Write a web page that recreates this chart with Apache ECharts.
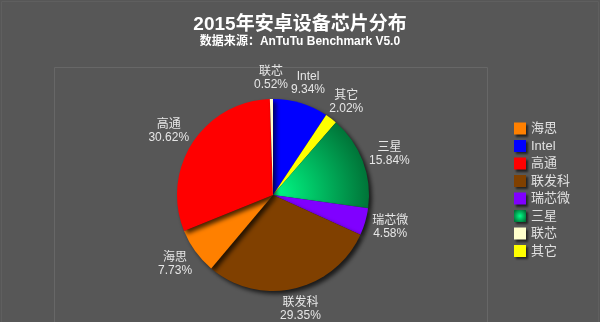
<!DOCTYPE html>
<html>
<head>
<meta charset="utf-8">
<script src="https://cdn.jsdelivr.net/npm/echarts@6/dist/echarts.min.js"></script>
<style>
  html, body { margin: 0; padding: 0; background: #575757; }
  #chart { width: 600px; height: 322px; }
</style>
</head>
<body>
<div id="chart"></div>
<script>
// 数据（顺时针，从12点方向开始）
var names = ['Intel', '其它', '三星', '瑞芯微', '联发科', '海思', '高通', '联芯'];
var values = [9.34, 2.02, 15.84, 4.58, 29.35, 7.73, 30.62, 0.52];
var legendOrder = ['海思', 'Intel', '高通', '联发科', '瑞芯微', '三星', '联芯', '其它'];

var PIE_CX = 273, PIE_CY = 195, PIE_R = 96;
var LABEL_GAP = 8;

var colors = {
    '海思': '#ff8000',
    'Intel': '#0000ff',
    '高通': '#ff0000',
    '联发科': '#804000',
    '瑞芯微': '#8000ff',
    '三星': {
        type: 'radial', x: PIE_CX, y: PIE_CY, r: PIE_R, global: true,
        colorStops: [{offset: 0, color: '#00ff88'}, {offset: 1, color: '#007438'}]
    },
    '联芯': '#ffffcc',
    '其它': '#ffff00'
};
// 图例里的三星图标用局部渐变
var samsungIcon = {
    type: 'radial', x: 0.5, y: 0.5, r: 0.6,
    colorStops: [{offset: 0, color: '#00ff88'}, {offset: 1, color: '#007438'}]
};

var FONT = '"Liberation Sans", "Noto Sans CJK SC", sans-serif';

var seriesData = [];
for (var i = 0; i < names.length; i++) {
    seriesData.push({
        name: names[i],
        value: values[i],
        itemStyle: { color: colors[names[i]] }
    });
}

var legendData = [];
for (var j = 0; j < legendOrder.length; j++) {
    var it = { name: legendOrder[j] };
    if (legendOrder[j] === '三星') {
        it.itemStyle = { color: samsungIcon };
    }
    legendData.push(it);
}

// 标签居中放在扇区中线外侧
function placeLabel(params) {
    var pts = params.labelLinePoints;
    if (!pts) return {};
    var p0 = pts[0], p1 = pts[1];
    var dx = p1[0] - p0[0], dy = p1[1] - p0[1];
    var len = Math.sqrt(dx * dx + dy * dy) || 1;
    dx /= len; dy /= len;
    var w = params.labelRect.width, h = params.labelRect.height;
    return {
        x: p0[0] + dx * LABEL_GAP + dx * w / 2,
        y: p0[1] + dy * LABEL_GAP + dy * h / 2,
        align: 'center',
        verticalAlign: 'middle'
    };
}

var chart = echarts.init(document.getElementById('chart'));

chart.setOption({
    backgroundColor: '#575757',
    animation: false,
    title: {
        text: '2015年安卓设备芯片分布',
        subtext: '数据来源：AnTuTu Benchmark V5.0',
        left: 'center',
        top: 10,
        itemGap: 2,
        textStyle: { color: '#ffffff', fontSize: 19, fontWeight: 'bold', fontFamily: FONT },
        subtextStyle: { color: '#ffffff', fontSize: 12, fontWeight: 'bold', fontFamily: FONT }
    },
    legend: {
        data: legendData,
        orient: 'vertical',
        left: 509,
        top: 117,
        itemWidth: 12,
        itemHeight: 12,
        itemGap: 4.5,
        icon: 'rect',
        itemStyle: { shadowColor: 'rgba(0,0,0,0.6)', shadowBlur: 2, shadowOffsetX: 2, shadowOffsetY: 2 },
        textStyle: { color: '#e0e0e0', fontSize: 13, fontFamily: FONT },
        selectedMode: false
    },
    graphic: [
        { type: 'rect', shape: { x: 1.5, y: 1.5, width: 597, height: 330 }, style: { fill: null, stroke: '#5f5f5f', lineWidth: 1 } },
        { type: 'rect', shape: { x: 54.5, y: 67.5, width: 433, height: 270 }, style: { fill: null, stroke: '#676767', lineWidth: 1 } }
    ],
    series: [{
        type: 'pie',
        center: [PIE_CX, PIE_CY],
        radius: [0, PIE_R],
        startAngle: 90,
        clockwise: true,
        avoidLabelOverlap: false,
        data: seriesData,
        itemStyle: {
            shadowColor: 'rgba(0,0,0,0.7)',
            shadowBlur: 4,
            shadowOffsetX: 3,
            shadowOffsetY: 3
        },
        label: {
            show: true,
            position: 'outside',
            formatter: '{b}\n{d}%',
            color: '#e6e6e6',
            fontSize: 12,
            lineHeight: 13,
            fontFamily: FONT
        },
        labelLine: { show: true, length: 6, length2: 0, lineStyle: { opacity: 0, width: 0 } },
        labelLayout: placeLabel
    }]
});
</script>
</body>
</html>
